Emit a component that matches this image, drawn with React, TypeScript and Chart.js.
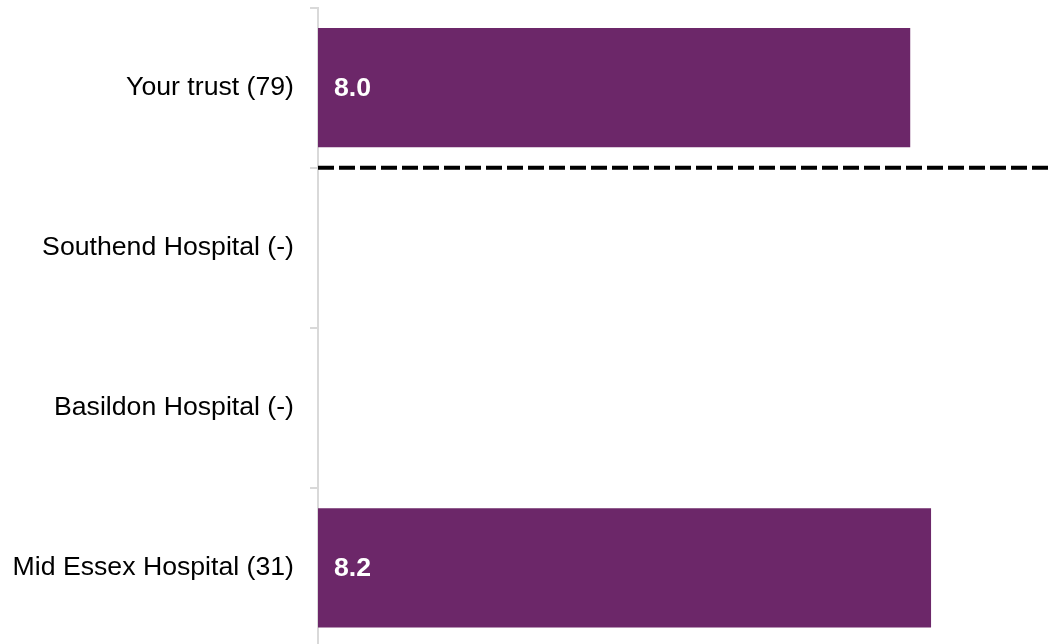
import React, { useEffect, useRef } from "react";
import { Chart, registerables } from "chart.js";

Chart.register(...registerables);

const categories = [
  "Your trust (79)",
  "Southend Hospital (-)",
  "Basildon Hospital (-)",
  "Mid Essex Hospital (31)",
];
const scores: (number | null)[] = [7.96, null, null, 8.24];
const barColor = "#6C2769";
const axisMin = 0;
const axisMax = 10;

const valueLabels = {
  id: "valueLabels",
  afterDatasetsDraw(chart: any) {
    const ctx = chart.ctx;
    const meta = chart.getDatasetMeta(0);
    ctx.save();
    ctx.font = "bold 26.67px 'Liberation Sans', Arial, sans-serif";
    ctx.fillStyle = "#ffffff";
    ctx.textAlign = "left";
    ctx.textBaseline = "middle";
    meta.data.forEach((bar: any, i: number) => {
      const v = scores[i];
      if (v == null) return;
      ctx.fillText(v.toFixed(1), bar.base + 16, bar.y + 1);
    });
    ctx.restore();
  },
};

const separator = {
  id: "separator",
  afterDraw(chart: any) {
    const ys = chart.scales.y;
    const y = (ys.getPixelForValue(0) + ys.getPixelForValue(1)) / 2;
    const ctx = chart.ctx;
    const area = chart.chartArea;
    ctx.save();
    ctx.strokeStyle = "#000000";
    ctx.lineWidth = 4;
    ctx.setLineDash([16, 5]);
    ctx.beginPath();
    ctx.moveTo(area.left, y);
    ctx.lineTo(area.right, y);
    ctx.stroke();
    ctx.restore();
  },
};

export default function App() {
  const ref = useRef<HTMLCanvasElement | null>(null);
  useEffect(() => {
    if (!ref.current) return;
    const chart = new Chart(ref.current, {
      type: "bar",
      data: {
        labels: categories,
        datasets: [
          {
            data: scores as any,
            backgroundColor: barColor,
            borderWidth: 0,
            barPercentage: 0.745,
            categoryPercentage: 1,
          },
        ],
      },
      options: {
        indexAxis: "y",
        animation: false,
        responsive: false,
        devicePixelRatio: 1,
        layout: { padding: { top: 7.5, bottom: 0, left: 0, right: 0 } },
        plugins: {
          legend: { display: false },
          tooltip: { enabled: false },
        },
        scales: {
          x: {
            display: false,
            min: axisMin,
            max: axisMax,
          },
          y: {
            afterFit(scale: any) {
              scale.width = 318;
              scale.paddingTop = 0;
              scale.paddingBottom = 0;
            },
            border: { display: true, color: "#d9d9d9", width: 2 },
            grid: {
              display: true,
              drawOnChartArea: false,
              drawTicks: true,
              tickLength: 8,
              color: "#d9d9d9",
              lineWidth: 2,
              offset: true,
            },
            ticks: {
              color: "#000000",
              padding: 16,
              font: { family: "'Liberation Sans', Arial, sans-serif", size: 26.67 },
            },
          },
        },
      },
      plugins: [valueLabels, separator],
    });
    return () => chart.destroy();
  }, []);
  return (
    <div
      style={{
        position: "absolute",
        left: 0,
        top: 0,
        width: 1050,
        height: 644,
        overflow: "hidden",
        background: "#ffffff",
      }}
    >
      <canvas ref={ref} width={1062} height={648} style={{ width: 1062, height: 648, display: "block" }} />
    </div>
  );
}
